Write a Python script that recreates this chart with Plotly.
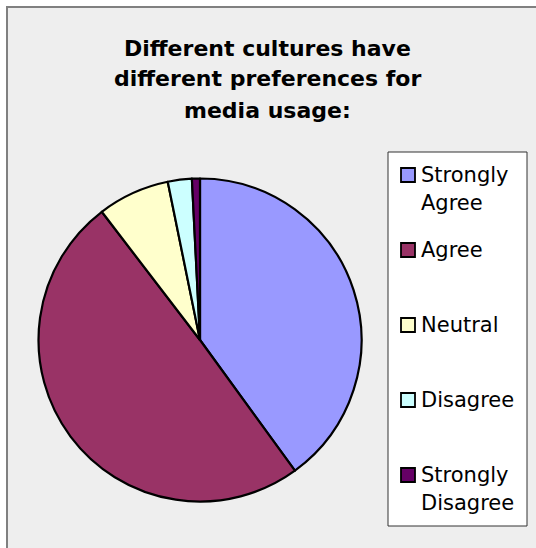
import plotly.graph_objects as go

# Survey responses
labels = ["Strongly Agree", "Agree", "Neutral", "Disagree", "Strongly Disagree"]
counts = [50, 62, 9, 3, 1]
colors = ["#9999FF", "#993366", "#FFFFCC", "#CCFFFF", "#660066"]
title_lines = ["Different cultures have", "different preferences for", "media usage:"]

W, H = 536, 548
FONT = "DejaVu Sans"

def px_x(x):
    return x / W

def px_y(y):
    return 1 - y / H

# pie geometry (pixels)
cx, cy, r = 200, 340, 161.5

fig = go.Figure(go.Pie(
    labels=labels,
    values=counts,
    marker=dict(colors=colors, line=dict(color="#000000", width=2.2)),
    sort=False,
    direction="clockwise",
    rotation=0,
    textinfo="none",
    hoverinfo="label+value+percent",
    showlegend=False,
    domain=dict(x=[px_x(cx - r), px_x(cx + r)], y=[px_y(cy + r), px_y(cy - r)]),
))

shapes = [
    # chart area
    dict(type="rect", xref="paper", yref="paper", layer="below",
         x0=px_x(7), x1=px_x(W + 10), y0=px_y(H + 10), y1=px_y(7),
         fillcolor="#EEEEEE", line=dict(color="#808080", width=2)),
    # legend box
    dict(type="rect", xref="paper", yref="paper", layer="below",
         x0=px_x(388), x1=px_x(527), y0=px_y(526), y1=px_y(152),
         fillcolor="#FFFFFF", line=dict(color="#333333", width=1)),
]

annotations = []
for i, line in enumerate(title_lines):
    annotations.append(dict(
        text=f"<b>{line}</b>", xref="paper", yref="paper",
        x=px_x(267), y=px_y(48 + i * 31), xanchor="center", yanchor="middle",
        showarrow=False, font=dict(family=FONT, size=22, color="#000000"),
    ))

# legend entries
item_y0, item_step = 175, 75
for i, (lab, col) in enumerate(zip(labels, colors)):
    yc = item_y0 + i * item_step
    shapes.append(dict(
        type="rect", xref="paper", yref="paper",
        x0=px_x(401), x1=px_x(415), y0=px_y(yc + 7), y1=px_y(yc - 7),
        fillcolor=col, line=dict(color="#000000", width=1.8),
    ))
    words = lab.split(" ")
    for j, w in enumerate(words):
        annotations.append(dict(
            text=w, xref="paper", yref="paper",
            x=px_x(419), y=px_y(yc + j * 28), xanchor="left", yanchor="middle",
            showarrow=False, font=dict(family=FONT, size=21, color="#000000"),
        ))

fig.update_layout(
    width=W, height=H,
    margin=dict(l=0, r=0, t=0, b=0),
    paper_bgcolor="#FFFFFF",
    plot_bgcolor="#FFFFFF",
    shapes=shapes,
    annotations=annotations,
)

fig.write_html("out.html")
